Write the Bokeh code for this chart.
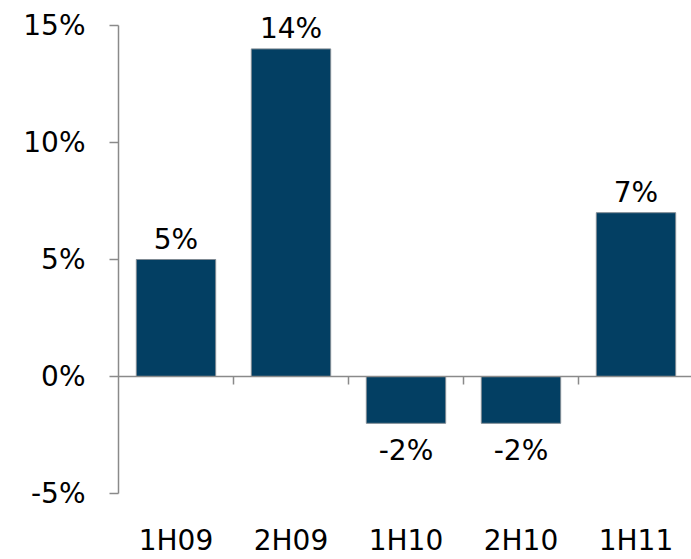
from bokeh.plotting import figure
from bokeh.models import (ColumnDataSource, Range1d, FixedTicker, PrintfTickFormatter,
                          Span)
from bokeh.core.properties import value
from bokeh.embed import file_html
from bokeh.resources import INLINE

# Half-year growth, in percent
periods = ["1H09", "2H09", "1H10", "2H10", "1H11"]
growth = [5, 14, -2, -2, 7]
y_ticks = [-5, 0, 5, 10, 15]

BAR = "#033f63"
AXIS = "#8a8a8a"
FONT = "DejaVu Sans"

n = len(periods)
xs = [i + 0.5 for i in range(n)]
labels = [f"{v}%" for v in growth]
# positive labels float above the bar, negative ones hang below it
offsets = [-20 if v >= 0 else 27 for v in growth]

src = ColumnDataSource(dict(x=xs, top=growth, label=labels, yoff=offsets))

W, H = 691, 559
LEFT = 118
px_per_unit = 115.0
px_per_pct = 23.4
frame_h = 493

p = figure(width=W, height=H, output_backend="svg", toolbar_location=None,
           x_range=Range1d(0, (W - LEFT) / px_per_unit),
           y_range=Range1d(-5, -5 + frame_h / px_per_pct),
           min_border_left=LEFT, min_border_right=0, min_border_top=0,
           min_border_bottom=H - frame_h)
p.outline_line_color = None
p.grid.visible = False
p.background_fill_color = "white"
p.border_fill_color = "white"

p.vbar(x="x", top="top", bottom=0, width=0.69, source=src,
       fill_color=BAR, line_color="#7f8a93", line_width=1)

p.text(x="x", y="top", text="label", source=src, y_offset="yoff",
       text_align="center", text_baseline="alphabetic",
       text_font=value(FONT), text_font_size="28px", text_color="#000000")

# zero line with category separators hanging below it
p.add_layout(Span(location=0, dimension="width", line_color=AXIS, line_width=1.5))
p.ray(x=list(range(1, n)), y=0, length=8, length_units="screen",
      angle=-1.5707963267948966, line_color=AXIS, line_width=1.5)

# value axis
ya = p.yaxis[0]
ya.ticker = FixedTicker(ticks=y_ticks)
ya.formatter = PrintfTickFormatter(format="%d%%")
ya.bounds = (y_ticks[0], y_ticks[-1])
ya.axis_line_color = AXIS
ya.axis_line_width = 1.5
ya.major_tick_line_color = AXIS
ya.major_tick_line_width = 1.5
ya.major_tick_out = 9
ya.major_tick_in = 0
ya.minor_tick_line_color = None
ya.major_label_standoff = 24
ya.major_label_text_font = FONT
ya.major_label_text_font_size = "28px"
ya.major_label_text_color = "#000000"

# category axis: labels only
xa = p.xaxis[0]
xa.ticker = FixedTicker(ticks=xs)
xa.major_label_overrides = {x: name for x, name in zip(xs, periods)}
xa.axis_line_color = None
xa.major_tick_line_color = None
xa.minor_tick_line_color = None
xa.major_tick_out = 0
xa.major_tick_in = 0
xa.major_label_standoff = 30
xa.major_label_text_font = FONT
xa.major_label_text_font_size = "28px"
xa.major_label_text_color = "#000000"

open("out.html", "w").write(file_html(p, INLINE))
